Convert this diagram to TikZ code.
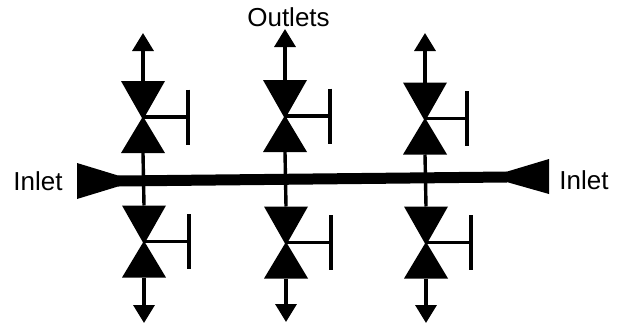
\documentclass[tikz,border=0pt]{standalone}
\usepackage{fontspec}
\setmainfont{Liberation Sans}
\usetikzlibrary{arrows.meta}

\tikzset{
  pipe/.style={line width=3.4pt},
  mainpipe/.style={line width=11pt},
  outflow/.style={pipe, -{Triangle[length=18pt, width=21pt]}},
  label/.style={font=\fontsize{26}{29}\selectfont, inner sep=0pt},
  pics/valve/.style={code={
    \coordinate (-top) at (0,-36);
    \coordinate (-bot) at (0,36);
    \fill (-22,-36) -- (22,-36) -- (1,1) -- (22,36) -- (-22,36) -- (-1,1) -- cycle;
    \coordinate (-hub) at (0,0);
    \coordinate (-grip) at (#1,0);
    \draw[pipe] (-hub) -- (-grip);
    \draw[pipe] (#1,-27.5) -- (#1,27.5);
  }}
}

\begin{document}
\begin{tikzpicture}[x=1pt, y=-1pt]
\useasboundingbox (0,0) rectangle (621,327);

% inlet header
\coordinate (headL) at (118,181);
\coordinate (headR) at (507,177);
\draw[mainpipe] (headL) -- (headR);
\fill (77,163) -- (136,181) -- (77,199) -- cycle;
\fill (549,159) -- (489,177) -- (549,194) -- cycle;

% valves, upper and lower in each column
\foreach \col/\xup/\yup/\hup/\xlow/\ylow/\hlow/\ytop/\ybot in {
  1/143/117/45/144/241.5/45/33/323,
  2/285/116/45/286/242.5/45/29/322,
  3/425/118.5/42/426/242.5/45/33/323}{
  \pic (up\col) at (\xup,\yup) {valve=\hup};
  \pic (low\col) at (\xlow,\ylow) {valve=\hlow};
  \coordinate (out\col) at (\xup,\ytop);
  \coordinate (drain\col) at (\xlow,\ybot);
  \draw[pipe] (up\col-bot) -- (low\col-top);
  \draw[outflow] (up\col-top) -- (out\col);
  \draw[outflow] (low\col-bot) -- (drain\col);
}

% labels
\node[label] (inletL) at (38,181) {Inlet};
\node[label] (inletR) at (584,180) {Inlet};
\node[label] (outlets) at (288.5,17) {Outlets};
\end{tikzpicture}
\end{document}
